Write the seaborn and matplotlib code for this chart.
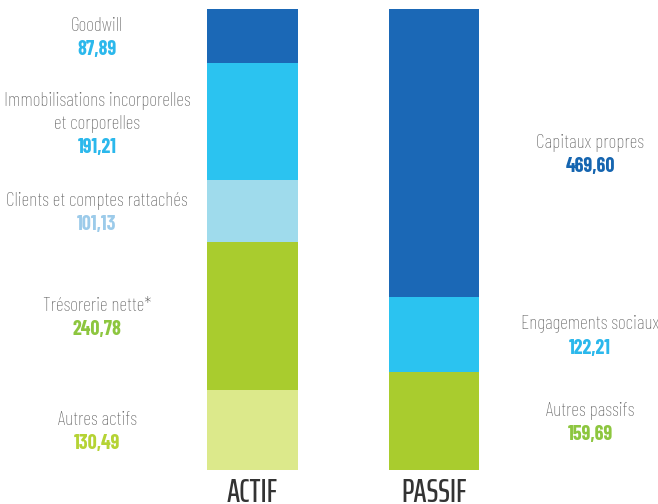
import matplotlib
matplotlib.use("Agg")
import matplotlib.pyplot as plt
import seaborn as sns
import pandas as pd
import numpy as np

sns.set_theme(style="white")
plt.rcParams["font.family"] = ["Barlow Condensed", "DejaVu Sans"]

# Bilan (M€)
actif_labels = ["Goodwill", "Immobilisations incorporelles\net corporelles",
                "Clients et comptes rattachés", "Trésorerie nette*", "Autres actifs"]
actif_values = [87.89, 191.21, 101.13, 240.78, 130.49]
actif_colors = ["#1b68b6", "#2bc3f0", "#9fdbec", "#a9cc2e", "#dce98b"]
actif_value_colors = ["#2bb8ec", "#2bb8ec", "#9ccbea", "#8dc63f", "#b5d334"]

passif_labels = ["Capitaux propres", "Engagements sociaux", "Autres passifs"]
passif_values = [469.60, 122.21, 159.69]
passif_colors = ["#1b68b6", "#2bc3f0", "#a9cc2e"]
passif_value_colors = ["#1565b0", "#2bb8ec", "#8dc63f"]

columns = ["ACTIF", "PASSIF"]

fig = plt.figure(figsize=(6.58, 5.04), dpi=100)
ax = fig.add_axes([0, 34 / 504, 1, 461 / 504])

def fmt(v):
    return f"{v:.2f}".replace(".", ",")

def draw_stack(col, labels, values, colors, vcolors, text_x):
    n = len(values)
    # top of each segment measured from the bottom of the bar
    tops = np.cumsum(values[::-1])[::-1]
    for i in range(n):
        df = pd.DataFrame({"col": [col], "v": [tops[i]]})
        sns.barplot(data=df, x="col", y="v", order=columns, color=colors[i],
                    saturation=1, width=0.5, ax=ax, linewidth=0)
    for i in range(n):
        mid = tops[i] - values[i] / 2
        # keep multi-line captions centred on their segment
        shift = -9 * (labels[i].count("\n"))
        ax.annotate(labels[i], (text_x, mid), xytext=(0, 1 + shift), textcoords="offset points",
                    ha="center", va="bottom", fontsize=14, fontweight="light",
                    color="#626262", linespacing=1.35)
        ax.annotate(fmt(values[i]), (text_x, mid), xytext=(0, -3 + shift), textcoords="offset points",
                    ha="center", va="top", fontsize=14.5, fontweight="bold", color=vcolors[i])

draw_stack("ACTIF", actif_labels, actif_values, actif_colors, actif_value_colors,
           (97 - 252.5) / 181.5)
draw_stack("PASSIF", passif_labels, passif_values, passif_colors, passif_value_colors,
           (590 - 252.5) / 181.5)

ax.set_xlim((0 - 252.5) / 181.5, (658 - 252.5) / 181.5)
ax.set_ylim(0, sum(actif_values))
ax.set_xlabel("")
ax.set_ylabel("")
ax.set_yticks([])
ax.tick_params(axis="x", length=0, pad=6)
for t in ax.get_xticklabels():
    t.set_fontfamily(["Saira ExtraCondensed", "Barlow Condensed", "DejaVu Sans"])
    t.set_fontweight("medium")
    t.set_fontsize(23)
    t.set_color("#333333")
sns.despine(ax=ax, left=True, bottom=True)

fig.savefig("out.png", dpi=100)
